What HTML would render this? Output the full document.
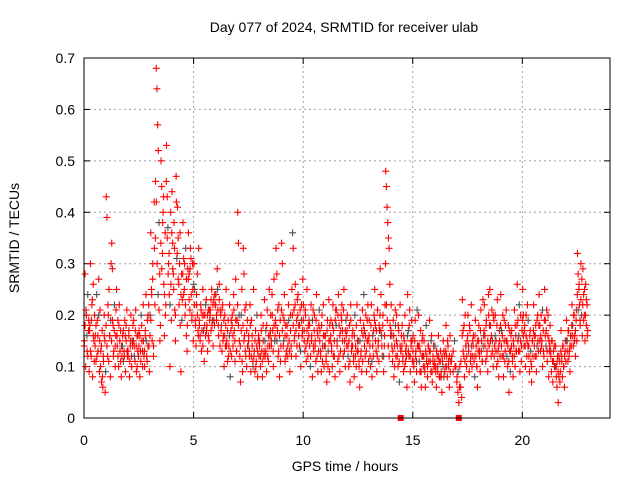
<!DOCTYPE html>
<html><head><meta charset="utf-8"><style>
body{margin:0;background:#fff}
svg{display:block;font-family:"Liberation Sans",sans-serif}
</style></head><body>
<svg id="chart" width="640" height="480">
<text x="344" y="32" font-size="14" text-anchor="middle">Day 077 of 2024, SRMTID for receiver ulab</text>
<text x="345" y="471" font-size="14" text-anchor="middle">GPS time / hours</text>
<text transform="translate(19,238) rotate(-90)" font-size="14" text-anchor="middle">SRMTID / TECUs</text>
<g id="grid"></g><g id="ticks"></g><g id="marks"></g>
<rect x="84" y="58" width="526" height="360" fill="none" stroke="#000" stroke-width="1"/>
</svg>
<script>
const xTicks=[0,5,10,15,20];
const yTicks=[0,0.1,0.2,0.3,0.4,0.5,0.6,0.7];
const yTickLabels=["0","0.1","0.2","0.3","0.4","0.5","0.6","0.7"];
const binStarts=[0,0.25,0.5,0.75,1,1.25,1.5,1.75,2,2.25,2.5,2.75,3,3.25,3.5,3.75,4,4.25,4.5,4.75,5,5.25,5.5,5.75,6,6.25,6.5,6.75,7,7.25,7.5,7.75,8,8.25,8.5,8.75,9,9.25,9.5,9.75,10,10.25,10.5,10.75,11,11.25,11.5,11.75,12,12.25,12.5,12.75,13,13.25,13.5,13.75,14,14.25,14.5,14.75,15,15.25,15.5,15.75,16,16.25,16.5,16.75,17,17.25,17.5,17.75,18,18.25,18.5,18.75,19,19.25,19.5,19.75,20,20.25,20.5,20.75,21,21.25,21.5,21.75,22,22.25,22.5,22.75];
const binValues=[
[.15,.28,.10,.20,.13,.24,.17,.09],[.18,.30,.12,.22,.08,.26,.15,.20],[.16,.11,.24,.19,.13,.27,.09,.21],[.13,.07,.17,.06,.11,.20,.15,.09],
[.43,.39,.12,.20,.25,.16,.08,.30],[.34,.29,.18,.13,.22,.10,.16,.25],[.14,.19,.10,.22,.13,.17,.08,.12],[.16,.11,.13,.19,.09,.15,.21,.12],
[.12,.17,.08,.14,.20,.10,.15,.18],[.19,.14,.11,.21,.09,.16,.13,.12],[.17,.08,.13,.20,.15,.10,.22,.12],[.10,.16,.24,.12,.19,.14,.22,.09],
[.20,.36,.25,.15,.30,.12,.42,.22],[.46,.68,.64,.57,.52,.38,.28,.18],[.50,.45,.32,.40,.26,.16,.36,.22],[.53,.43,.37,.30,.24,.10,.40,.19],
[.44,.34,.28,.38,.21,.15,.47,.31],[.41,.35,.26,.30,.18,.09,.28,.23],[.38,.31,.25,.20,.33,.16,.13,.29],[.36,.28,.21,.33,.24,.19,.30,.15],
[.30,.25,.19,.14,.22,.28,.17,.33],[.18,.15,.22,.13,.20,.25,.17,.11],[.20,.16,.23,.18,.13,.21,.15,.19],[.21,.17,.25,.19,.14,.23,.18,.22],
[.24,.19,.29,.21,.16,.26,.14,.20],[.18,.13,.22,.16,.10,.20,.14,.25],[.15,.11,.19,.14,.22,.08,.17,.12],[.20,.14,.24,.17,.11,.27,.13,.19],
[.40,.34,.20,.12,.07,.17,.25,.09],[.33,.28,.16,.13,.22,.10,.19,.14],[.16,.12,.22,.09,.19,.14,.11,.25],[.13,.09,.17,.11,.20,.08,.15,.12],
[.15,.10,.20,.13,.08,.18,.12,.23],[.12,.17,.09,.21,.14,.11,.25,.16],[.20,.14,.24,.17,.10,.27,.15,.19],[.33,.28,.17,.12,.22,.08,.19,.14],
[.34,.30,.20,.15,.24,.11,.18,.13],[.18,.12,.22,.15,.09,.20,.14,.25],[.36,.33,.21,.16,.26,.12,.19,.23],[.24,.18,.14,.21,.10,.19,.16,.27],
[.22,.17,.13,.20,.11,.25,.15,.18],[.19,.14,.10,.22,.16,.08,.21,.13],[.20,.15,.11,.24,.17,.09,.13,.21],[.17,.12,.09,.20,.14,.22,.10,.16],
[.16,.11,.07,.19,.13,.23,.09,.15],[.19,.14,.10,.22,.17,.12,.08,.21],[.21,.15,.11,.24,.18,.09,.13,.20],[.22,.17,.12,.25,.15,.10,.19,.14],
[.20,.14,.10,.18,.07,.22,.13,.16],[.17,.12,.08,.20,.14,.10,.22,.15],[.15,.11,.06,.19,.13,.09,.21,.16],[.24,.17,.12,.20,.09,.15,.22,.11],
[.19,.14,.10,.22,.08,.16,.12,.20],[.25,.18,.13,.09,.21,.15,.11,.17],[.29,.24,.16,.12,.20,.09,.14,.22],[.48,.45,.41,.38,.35,.33,.26,.16],
[.22,.16,.11,.19,.08,.14,.21,.12],[.20,.14,.10,.17,.07,.22,.13,.16],[.18,.12,.09,.15,.20,.11,.14,.06],[.24,.17,.12,.21,.09,.15,.19,.11],
[.16,.11,.07,.19,.13,.09,.21,.14],[.20,.14,.09,.17,.06,.12,.16,.10],[.15,.10,.06,.18,.12,.08,.14,.11],[.19,.13,.09,.16,.07,.11,.14,.10],
[.14,.10,.06,.12,.09,.16,.11,.08],[.13,.09,.05,.11,.15,.08,.12,.10],[.18,.12,.08,.14,.10,.06,.16,.11],[.12,.09,.15,.10],
[.08,.05,.03,.10,.06,.04],[.23,.17,.12,.08,.20,.14,.10,.15],[.20,.14,.09,.17,.12,.22,.10,.15],[.16,.12,.08,.19,.14,.10,.06,.13],
[.18,.13,.09,.21,.15,.11,.23,.16],[.22,.16,.11,.19,.13,.09,.24,.14],[.25,.18,.12,.21,.15,.10,.19,.14],[.20,.15,.10,.23,.13,.08,.17,.12],
[.24,.17,.12,.20,.08,.15,.11,.18],[.21,.15,.10,.18,.05,.13,.09,.16],[.17,.12,.08,.14,.21,.10,.16,.13],[.26,.19,.13,.22,.09,.15,.11,.17],
[.25,.20,.14,.18,.10,.16,.12,.22],[.19,.14,.09,.17,.11,.07,.15,.12],[.22,.16,.12,.18,.09,.14,.20,.13],[.24,.18,.13,.20,.15,.10,.17,.12],
[.25,.19,.14,.21,.11,.16,.08,.13],[.18,.13,.09,.15,.07,.11,.14,.10],[.14,.10,.06,.12,.03,.08,.11,.09],[.17,.12,.08,.14,.10,.06,.13,.11],
[.19,.15,.11,.17,.13,.09,.16,.14],[.22,.18,.14,.20,.16,.12,.19,.15],[.32,.28,.25,.22,.18,.30,.20,.16],[.29,.24,.20,.15,.26,.18,.22,.17]
];
const binValues2=[
[.14,.18,.21,.16,.12,.19],[.17,.13,.19,.23,.16,.11],[.14,.18,.12,.16,.20,.15],[.10,.14,.08,.12,.16,.05],
[.18,.14,.22,.11,.16,.19],[.15,.19,.12,.17,.14,.21],[.16,.12,.18,.15,.11,.14],[.14,.17,.12,.16,.18,.13],
[.13,.16,.11,.15,.12,.14],[.15,.12,.17,.14,.10,.16],[.14,.16,.11,.18,.13,.15],[.13,.17,.15,.11,.20,.14],
[.16,.19,.24,.27,.14,.33],[.35,.42,.30,.24,.21,.15],[.34,.29,.38,.43,.24,.20],[.46,.35,.28,.32,.22,.26],
[.36,.29,.25,.33,.20,.42],[.32,.27,.22,.36,.24,.19],[.28,.24,.30,.22,.27,.18],[.27,.23,.29,.31,.20,.25],
[.26,.22,.18,.24,.20,.16],[.19,.16,.21,.17,.14,.20],[.18,.22,.17,.20,.16,.21],[.20,.23,.18,.22,.19,.24],
[.22,.20,.25,.18,.23,.21],[.17,.21,.15,.19,.16,.18],[.14,.17,.12,.16,.13,.19],[.18,.16,.21,.15,.19,.13],
[.22,.18,.15,.14,.20,.11],[.18,.15,.21,.12,.17,.14],[.15,.13,.18,.12,.16,.10],[.12,.15,.10,.14,.13,.16],
[.14,.12,.17,.11,.15,.13],[.15,.13,.18,.12,.16,.14],[.17,.15,.20,.13,.18,.16],[.18,.15,.21,.13,.16,.11],
[.21,.17,.14,.19,.16,.12],[.16,.14,.19,.13,.17,.12],[.20,.18,.15,.22,.17,.14],[.20,.16,.18,.13,.22,.17],
[.19,.15,.21,.14,.17,.12],[.16,.18,.12,.15,.19,.14],[.17,.14,.19,.12,.16,.18],[.15,.13,.18,.11,.16,.14],
[.14,.12,.17,.10,.15,.18],[.16,.13,.18,.12,.15,.19],[.18,.14,.20,.12,.16,.17],[.19,.15,.21,.13,.17,.16],
[.17,.12,.15,.11,.19,.14],[.14,.11,.16,.12,.18,.13],[.13,.10,.15,.12,.17,.11],[.18,.14,.16,.13,.19,.15],
[.16,.12,.18,.11,.14,.17],[.19,.15,.17,.12,.14,.18],[.20,.17,.14,.18,.12,.16],[.30,.22,.19,.14,.12,.18],
[.17,.14,.13,.16,.10,.18],[.15,.12,.18,.11,.14,.13],[.14,.11,.16,.10,.13,.12],[.16,.13,.18,.12,.14,.15],
[.13,.10,.15,.12,.11,.14],[.14,.11,.13,.09,.15,.12],[.12,.09,.13,.11,.10,.14],[.13,.11,.15,.09,.12,.10],
[.11,.09,.13,.10,.12,.08],[.11,.08,.12,.10,.13,.09],[.13,.10,.15,.11,.12,.09],[.11,.13,.10],
[.07,.09,.06,.11],[.16,.13,.18,.11,.14,.12],[.16,.13,.18,.11,.14,.12],[.14,.11,.16,.12,.10,.15],
[.15,.12,.17,.13,.11,.14],[.17,.14,.18,.12,.15,.20],[.18,.15,.16,.13,.20,.12],[.16,.13,.18,.11,.14,.15],
[.18,.14,.16,.12,.19,.13],[.15,.12,.14,.11,.17,.13],[.14,.11,.15,.12,.18,.13],[.18,.15,.16,.13,.20,.14],
[.19,.16,.17,.14,.20,.15],[.14,.12,.16,.13,.10,.15],[.17,.14,.16,.12,.19,.15],[.18,.15,.16,.14,.21,.13],
[.19,.16,.17,.13,.20,.15],[.14,.12,.15,.11,.13,.10],[.10,.08,.11,.09,.12,.07],[.13,.11,.14,.10,.12,.15],
[.15,.13,.17,.12,.14,.16],[.18,.16,.20,.15,.17,.21],[.24,.21,.26,.19,.23,.27],[.22,.19,.25,.20,.23,.16]
];
const gapMarkers=[14.45,17.1];
const NS='http://www.w3.org/2000/svg';
const X0=84,X1=610,Y0=418,Y1=58;
const xs=v=>X0+v/24*(X1-X0);
const ys=v=>Y0-v/0.7*(Y0-Y1);
function mk(tag,attrs,parent){const e=document.createElementNS(NS,tag);for(const k in attrs)e.setAttribute(k,attrs[k]);parent.appendChild(e);return e;}
const grid=document.getElementById('grid'),ticks=document.getElementById('ticks'),marks=document.getElementById('marks');
yTicks.forEach((v,i)=>{
  const y=ys(v);
  if(i>0&&i<yTicks.length-1){const g=mk('line',{x1:X0,x2:X1,y1:y,y2:y,stroke:'#a0a0a0','stroke-dasharray':'2,3'},grid);
  
  }
  mk('line',{x1:X0,x2:X0+6,y1:y,y2:y,stroke:'#000'},ticks);
  mk('line',{x1:X1,x2:X1-6,y1:y,y2:y,stroke:'#000'},ticks);
  const t=mk('text',{x:X0-9,y:y+5,'font-size':14,'text-anchor':'end'},ticks);t.textContent=yTickLabels[i];
  
  
});
xTicks.forEach(v=>{
  const x=xs(v);
  if(v>0){const g=mk('line',{x1:x,x2:x,y1:Y0,y2:Y1,stroke:'#a0a0a0','stroke-dasharray':'2,3'},grid);
  
  }
  mk('line',{x1:x,x2:x,y1:Y0,y2:Y0-6,stroke:'#000'},ticks);
  mk('line',{x1:x,x2:x,y1:Y1,y2:Y1+6,stroke:'#000'},ticks);
  const t=mk('text',{x:x,y:Y0+27,'font-size':14,'text-anchor':'middle'},ticks);t.textContent=String(v);
  
  
});
let n=0;
function drawSet(set,shift){
  binStarts.forEach((t0,b)=>{
    const vals=set[b];
    vals.forEach((v,k)=>{
      const t=t0+(k+shift)*0.25/vals.length;
      const x=xs(t),y=ys(v);
      const col=(n++%13===5)?'#505050':'#ff0000';
      const p=mk('path',{d:`M${x-3.5},${y}h7M${x},${y-3.5}v7`,stroke:col,'stroke-width':1.1,fill:'none'},marks);
      
      
    });
  });
}
drawSet(binValues,0.5);
drawSet(binValues2,0.15);
gapMarkers.forEach(t=>{
  const r=mk('rect',{x:xs(t)-3,y:Y0-3,width:6,height:6,fill:'#ff0000'},marks);
  
  
});
</script>
</body></html>
